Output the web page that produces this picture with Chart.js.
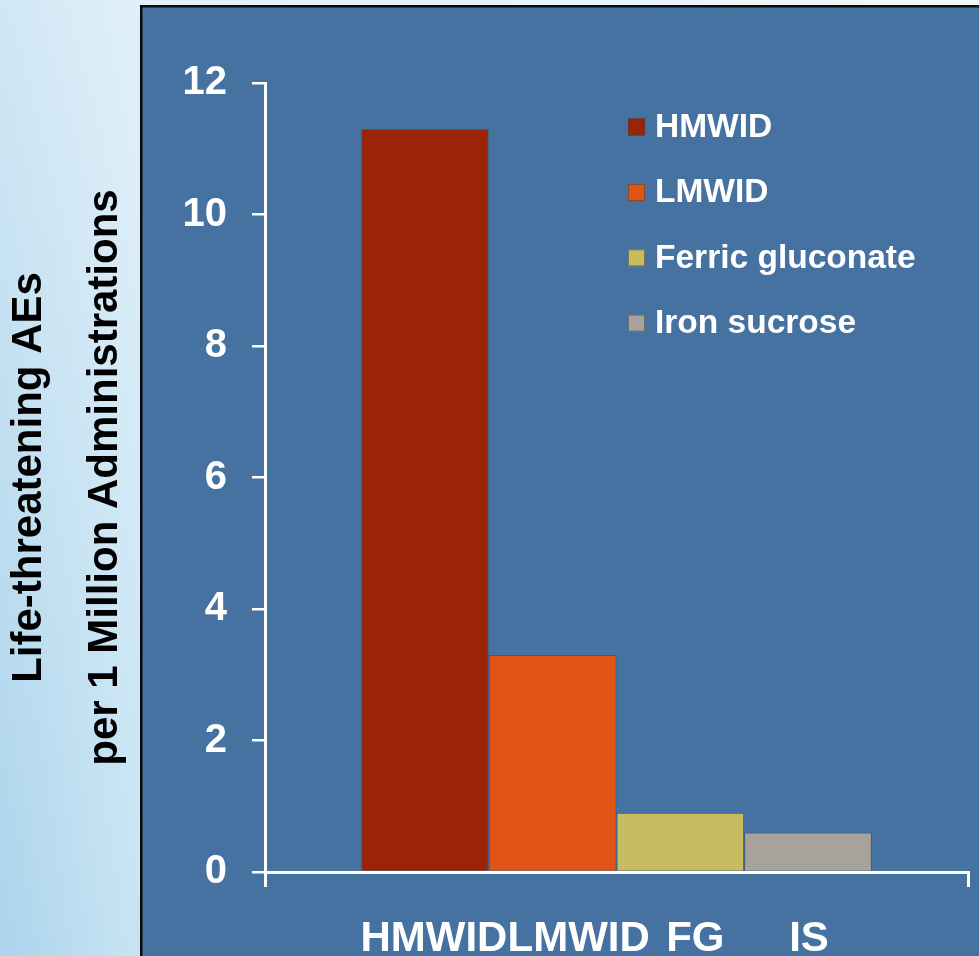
<!DOCTYPE html>
<html>
<head>
<meta charset="utf-8">
<script src="https://cdn.jsdelivr.net/npm/chart.js@4.4.1/dist/chart.umd.min.js"></script>
<style>
  html, body { margin: 0; padding: 0; background: #ffffff; overflow: hidden; }
  #wrap { width: 979px; height: 956px; position: relative; }
  canvas { display: block; }
</style>
</head>
<body>
<div id="wrap"><canvas id="chart" width="979" height="956"></canvas></div>
<script>
// Life-threatening adverse events per 1 million administrations, by IV iron product
const seriesNames = ['HMWID', 'LMWID', 'Ferric gluconate', 'Iron sucrose'];
const shortLabels = ['HMWID', 'LMWID', 'FG', 'IS'];
const aeRates = [11.3, 3.3, 0.9, 0.6];
const seriesColors = ['#9b2407', '#e05515', '#c7bc5f', '#a8a29c'];
const categories = [''];
const yMin = 0, yMax = 12, yStep = 2;
const axisTitle = ['Life-threatening AEs', 'per 1 Million Administrations'];

const FONT = "'Liberation Sans', Arial, sans-serif";

// Slide background: pale blue gradient with a framed blue panel
const backdrop = {
  id: 'backdrop',
  beforeDraw(chart) {
    const { ctx, width, height } = chart;
    ctx.save();
    const g = ctx.createLinearGradient(0, 0, width, 0);
    g.addColorStop(0, '#abd4ec');
    g.addColorStop(0.144, '#c8e4f4');
    g.addColorStop(1, '#e4f1f9');
    ctx.fillStyle = g;
    ctx.fillRect(0, 0, width, height);
    const v = ctx.createLinearGradient(0, 0, 0, height);
    v.addColorStop(0, 'rgba(255,255,255,0.45)');
    v.addColorStop(1, 'rgba(255,255,255,0)');
    ctx.fillStyle = v;
    ctx.fillRect(0, 0, width, height);
    ctx.fillStyle = '#4672a1';
    ctx.fillRect(141, 5, width, height);
    ctx.strokeStyle = '#0a0a0a';
    ctx.lineWidth = 2.5;
    ctx.beginPath();
    ctx.moveTo(141.25, height + 5);
    ctx.lineTo(141.25, 6.25);
    ctx.lineTo(width + 5, 6.25);
    ctx.stroke();
    ctx.restore();
  }
};

// Product abbreviations under the bars
const barNames = {
  id: 'barNames',
  afterDraw(chart, args, opts) {
    const { ctx } = chart;
    ctx.save();
    ctx.font = 'bold 42px ' + FONT;
    ctx.fillStyle = '#ffffff';
    ctx.textAlign = 'center';
    ctx.textBaseline = 'alphabetic';
    chart.data.datasets.forEach((ds, i) => {
      const bar = chart.getDatasetMeta(i).data[0];
      ctx.fillText(shortLabels[i], bar.x + opts.shift[i], opts.baseline);
    });
    ctx.restore();
  }
};

// Legend box inside the plot area
const seriesKey = {
  id: 'seriesKey',
  afterDraw(chart, args, opts) {
    const { ctx } = chart;
    ctx.save();
    ctx.font = 'bold 33.5px ' + FONT;
    ctx.textAlign = 'left';
    ctx.textBaseline = 'alphabetic';
    chart.data.datasets.forEach((ds, i) => {
      const cy = opts.y + i * opts.gap;
      ctx.fillStyle = ds.backgroundColor;
      ctx.fillRect(opts.x, cy - opts.box / 2, opts.box, opts.box);
      ctx.strokeStyle = 'rgba(60,60,70,0.55)';
      ctx.lineWidth = 1;
      ctx.strokeRect(opts.x + 0.5, cy - opts.box / 2 + 0.5, opts.box - 1, opts.box - 1);
      ctx.fillStyle = '#ffffff';
      ctx.fillText(ds.label, opts.x + opts.box + 10, cy + 10);
    });
    ctx.restore();
  }
};

new Chart(document.getElementById('chart'), {
  type: 'bar',
  data: {
    labels: categories,
    datasets: seriesNames.map((name, i) => ({
      label: name,
      data: [aeRates[i]],
      backgroundColor: seriesColors[i],
      borderColor: 'rgba(60,60,70,0.45)',
      borderWidth: 1,
      categoryPercentage: 0.7265,
      barPercentage: 1
    }))
  },
  options: {
    responsive: false,
    animation: false,
    devicePixelRatio: 1,
    layout: { padding: { left: 0, top: 83, right: 11, bottom: 0 } },
    plugins: {
      legend: { display: false },
      tooltip: { enabled: false },
      barNames: { shift: [9, 26, 15, 1], baseline: 951 },
      seriesKey: { x: 628, y: 127, gap: 65.4, box: 17 }
    },
    scales: {
      x: {
        type: 'category',
        offset: true,
        ticks: { display: false },
        grid: { display: true, drawOnChartArea: false, drawTicks: true, tickLength: 15, color: '#ffffff', lineWidth: 3, offset: true },
        border: { display: true, color: '#ffffff', width: 3 },
        afterFit(scale) { scale.height = 84; }
      },
      y: {
        min: yMin,
        max: yMax,
        ticks: {
          stepSize: yStep,
          color: '#ffffff',
          padding: 25,
          font: { family: FONT, size: 40, weight: 'bold' }
        },
        grid: { display: true, drawOnChartArea: false, drawTicks: true, tickLength: 13, color: '#ffffff', lineWidth: 2.5 },
        border: { display: true, color: '#ffffff', width: 3 },
        title: {
          display: true,
          text: axisTitle,
          color: '#000000',
          padding: { top: -8, bottom: 0 },
          font: { family: FONT, size: 42, weight: 'bold', lineHeight: 1.8 }
        },
        afterFit(scale) { scale.width = 265; }
      }
    }
  },
  plugins: [backdrop, barNames, seriesKey]
});
</script>
</body>
</html>
